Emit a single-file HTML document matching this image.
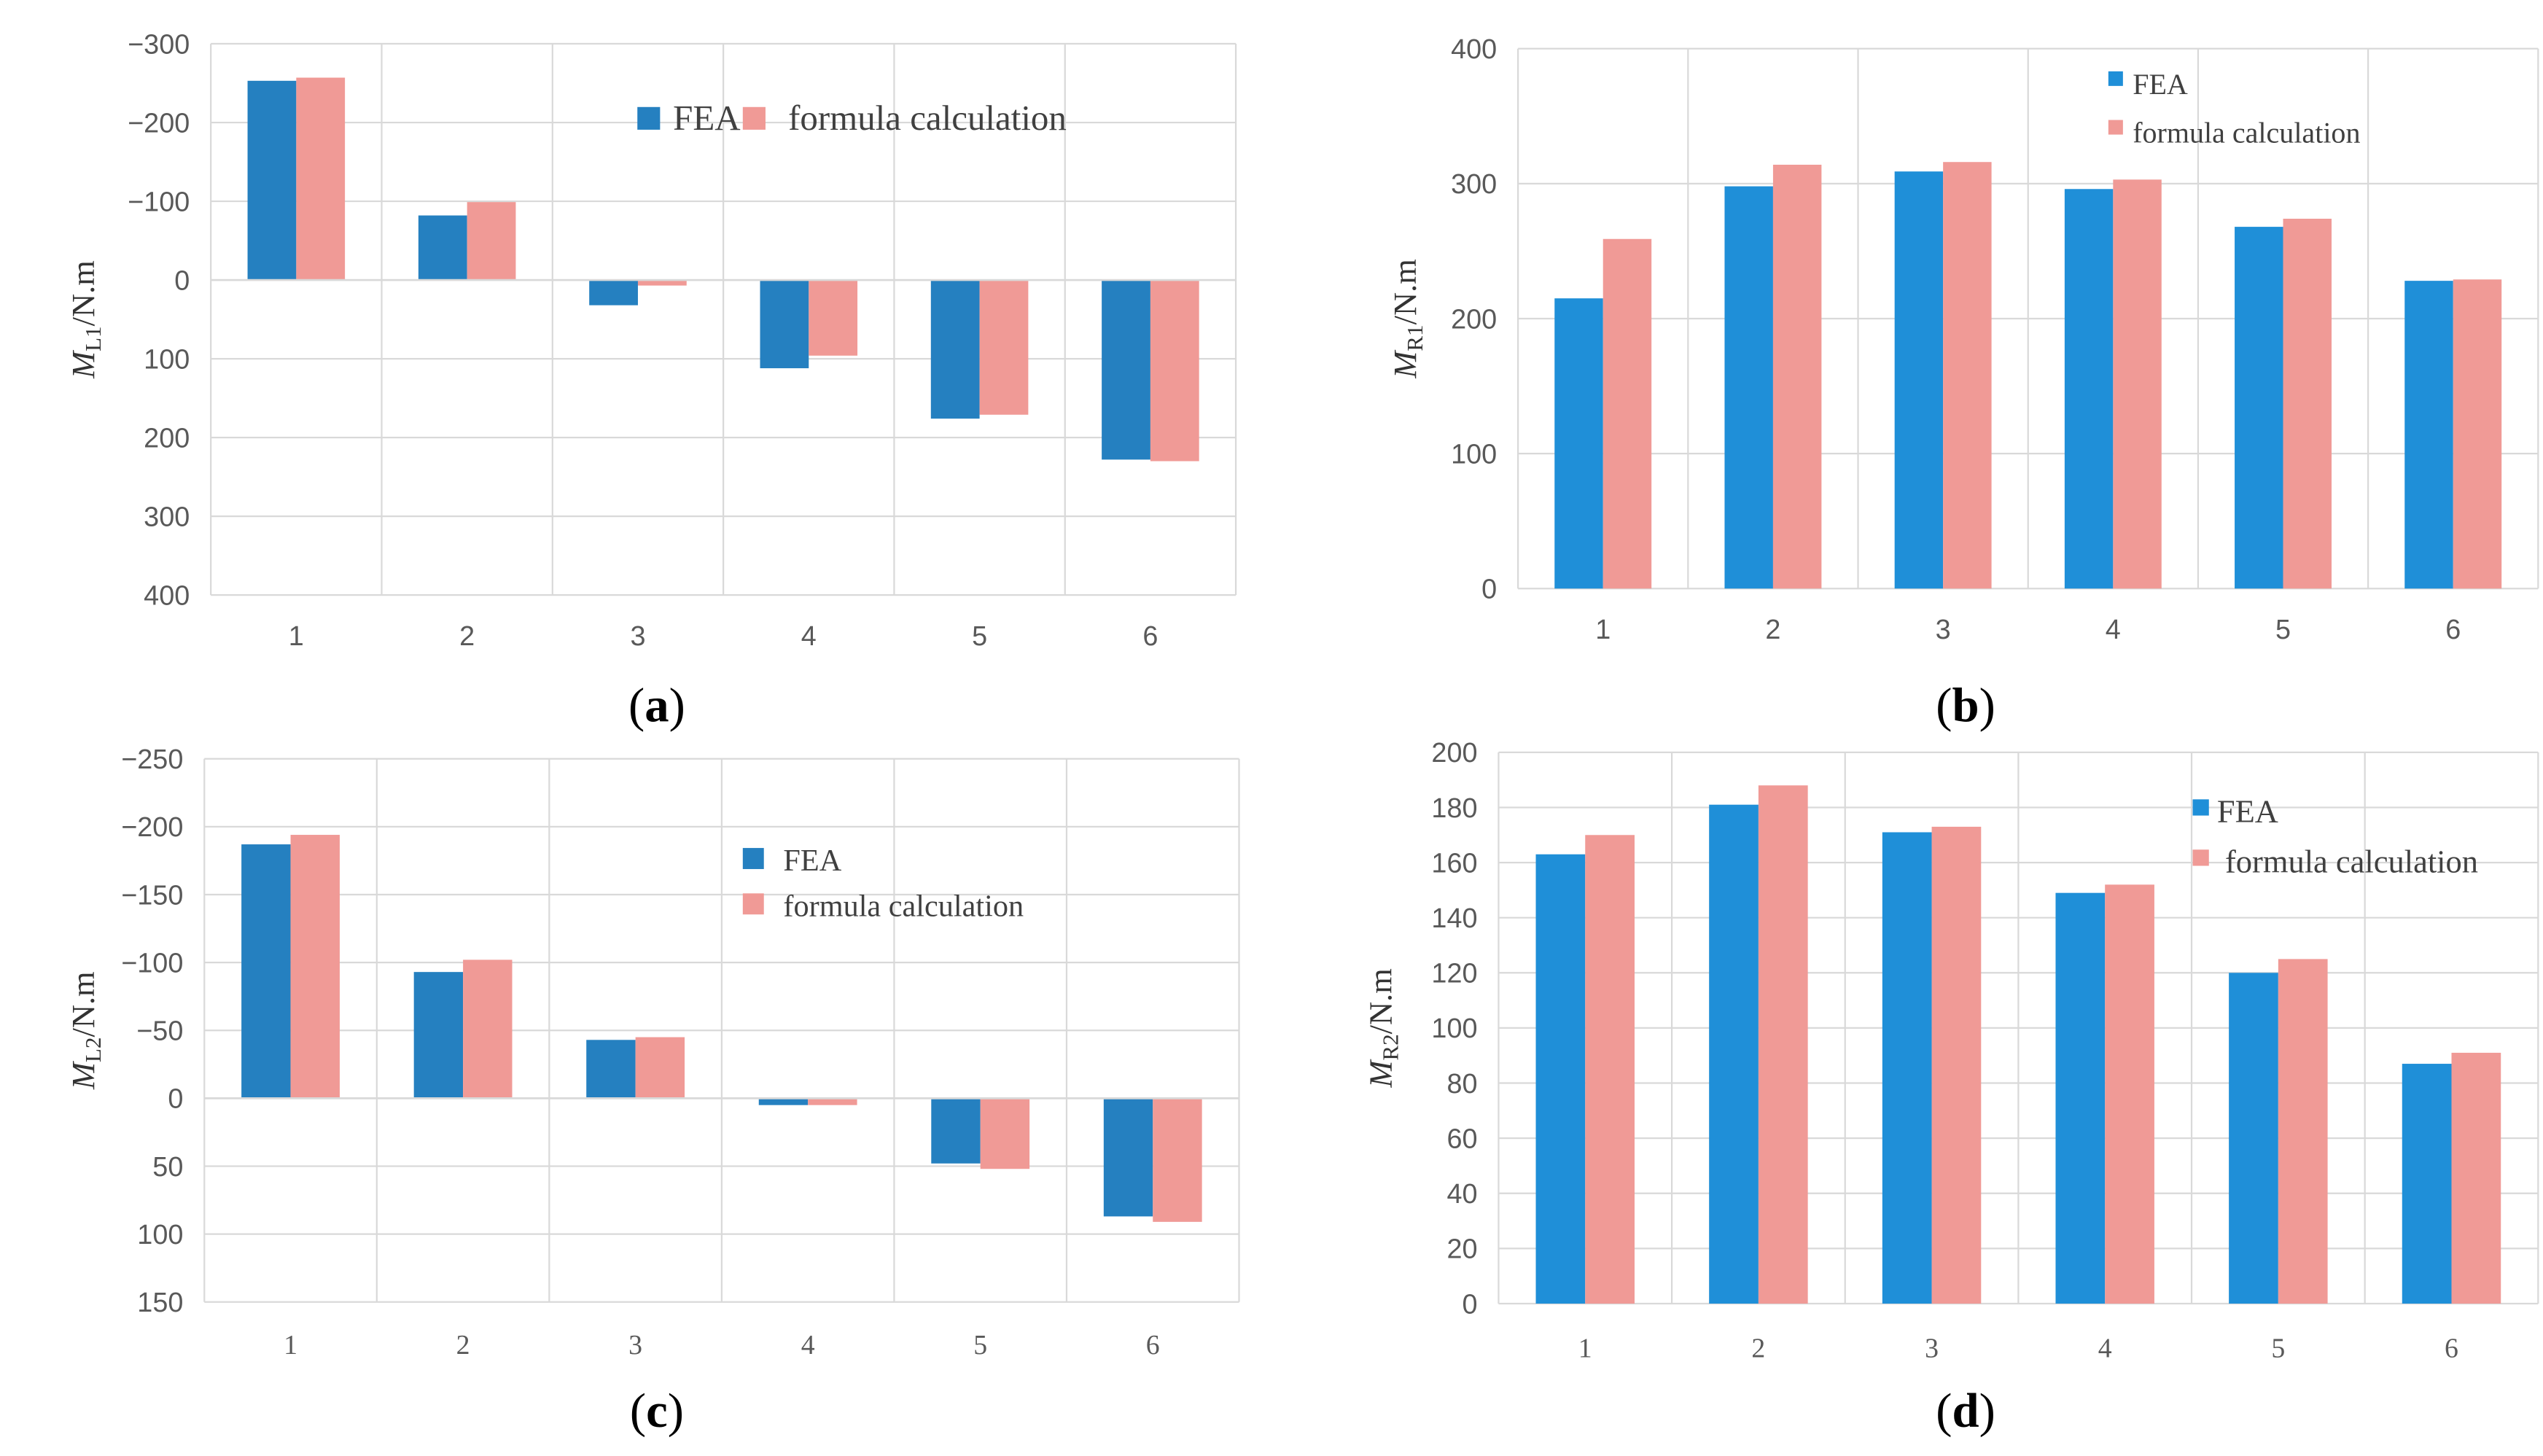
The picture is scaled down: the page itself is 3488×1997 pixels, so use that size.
<!DOCTYPE html>
<html><head><meta charset="utf-8"><style>
html,body{margin:0;padding:0;background:#fff;}
svg{display:block;}
</style></head><body>
<svg id="fig" width="3488" height="1997" viewBox="0 0 1568 898" preserveAspectRatio="none" xmlns="http://www.w3.org/2000/svg"></svg>
<script>
const categories = ["1","2","3","4","5","6"];
const aFEA = [-253,-82,32,112,176,228];
const aFormula = [-257,-99,7,96,171,230];
const aTicks = [-300,-200,-100,0,100,200,300,400];
const bFEA = [215,298,309,296,268,228];
const bFormula = [259,314,316,303,274,229];
const bTicks = [0,100,200,300,400];
const cFEA = [-187,-93,-43,5,48,87];
const cFormula = [-194,-102,-45,5,52,91];
const cTicks = [-250,-200,-150,-100,-50,0,50,100,150];
const dFEA = [163,181,171,149,120,87];
const dFormula = [170,188,173,152,125,91];
const dTicks = [0,20,40,60,80,100,120,140,160,180,200];
const seriesNames = ["FEA","formula calculation"];

const svg = document.getElementById('fig');
const NS = "http://www.w3.org/2000/svg";
function mk(tag, attrs, parent){
  const e = document.createElementNS(NS, tag);
  for (const k in attrs) e.setAttribute(k, attrs[k]);
  (parent||svg).appendChild(e);
  return e;
}
function fmt(v){ return v<0 ? "\u2212"+(-v) : String(v); }

function panel(cfg){
  const g = mk('g', {});
  
  
  const {L,R,T,B,min,max,inverted} = cfg;
  const y = v => inverted ? T + (v-min)/(max-min)*(B-T) : B - (v-min)/(max-min)*(B-T);
  const cw = (R-L)/categories.length;
  cfg.ticks.forEach(t=>{
    const ln = mk('line',{x1:L,x2:R,y1:y(t),y2:y(t),stroke:'#d9d9d9','stroke-width':1},g);
    
    
    const tx = mk('text',{x:L-13,y:y(t)+6,'text-anchor':'end','font-size':17,fill:'#595959','font-family':'Liberation Sans, sans-serif'},g);
    tx.textContent = fmt(t);
    
    
  });
  for(let i=0;i<=categories.length;i++){
    const ln = mk('line',{x1:L+i*cw,x2:L+i*cw,y1:T,y2:B,stroke:'#d9d9d9','stroke-width':1},g);
    
    
  }
  const bw = cw*0.285;
  categories.forEach((c,i)=>{
    const cx = L+cw*(i+0.5);
    [[cfg.s1,cfg.c1,-bw],[cfg.s2,'#f09a96',0]].forEach(([arr,col,off],si)=>{
      const v = arr[i];
      const y0 = y(0), y1 = y(v);
      const r = mk('rect',{x:cx+off,y:Math.min(y0,y1),width:bw,height:Math.abs(y1-y0),fill:col},g);
      
      
    });
    const tx = mk('text',{x:cx,y:B+cfg.xlOff,'text-anchor':'middle','font-size':17,fill:'#595959','font-family':cfg.xFont},g);
    tx.textContent = c;
    
    
  });
  if(inverted){
    const z = mk('line',{x1:L,x2:R,y1:y(0),y2:y(0),stroke:'#d9d9d9','stroke-width':1.2},g);
    
    
  }
  const tt = mk('text',{transform:`translate(${cfg.ytx},${(T+B)/2}) rotate(-90)`,'text-anchor':'middle','font-size':20,fill:'#333','font-family':'Liberation Serif, serif'},g);
  
  
  const t1 = mk('tspan',{'font-style':'italic'},tt); t1.textContent='M';
  const t2 = mk('tspan',{'font-size':14,dy:4},tt); t2.textContent=cfg.sub;
  const t3 = mk('tspan',{dy:-4},tt); t3.textContent='/N.m';
  cfg.leg.forEach((p,k)=>{
    const r = mk('rect',{x:p[0],y:p[1]-7,width:p[2],height:p[2],fill:k===0?cfg.c1:'#f09a96'},g);
    
    
    const tx = mk('text',{x:p[3],y:p[1]+7,'font-size':cfg.legFs,fill:'#404040','font-family':'Liberation Serif, serif'},g);
    tx.textContent = seriesNames[k];
    
    
  });
  const lab = mk('text',{x:cfg.lab[0],y:cfg.lab[1],'text-anchor':'middle','font-size':30,fill:'#000','font-family':'Liberation Serif, serif'},g);
  
  
  const a=mk('tspan',{},lab);a.textContent='(';
  const b=mk('tspan',{'font-weight':'bold'},lab);b.textContent=cfg.id;
  const c=mk('tspan',{},lab);c.textContent=')';
}

panel({id:'a',L:130,R:762,T:27,B:367,min:-300,max:400,inverted:true,ticks:aTicks,s1:aFEA,s2:aFormula,c1:'#2580c0',
  xlOff:31,xFont:'Liberation Sans, sans-serif',ytx:58,sub:'L1',
  leg:[[393,73,14,415],[458,73,14,486]],legFs:22,lab:[405,445]});
panel({id:'b',L:936,R:1565,T:30,B:363,min:0,max:400,inverted:false,ticks:bTicks,s1:bFEA,s2:bFormula,c1:'#1f8fd8',
  xlOff:31,xFont:'Liberation Sans, sans-serif',ytx:873,sub:'R1',
  leg:[[1300,51,9,1315],[1300,81,9,1315]],legFs:18,lab:[1212,445]});
panel({id:'c',L:126,R:764,T:468,B:803,min:-250,max:150,inverted:true,ticks:cTicks,s1:cFEA,s2:cFormula,c1:'#2580c0',
  xlOff:32,xFont:'Liberation Serif, serif',ytx:58,sub:'L2',
  leg:[[458,530,13,483],[458,558,13,483]],legFs:19,lab:[405,880]});
panel({id:'d',L:924,R:1565,T:464,B:804,min:0,max:200,inverted:false,ticks:dTicks,s1:dFEA,s2:dFormula,c1:'#1f8fd8',
  xlOff:33,xFont:'Liberation Serif, serif',ytx:858,sub:'R2',
  leg:[[1352,500,10,1367],[1352,531,10,1372]],legFs:20,lab:[1212,880]});
</script>
</body></html>
